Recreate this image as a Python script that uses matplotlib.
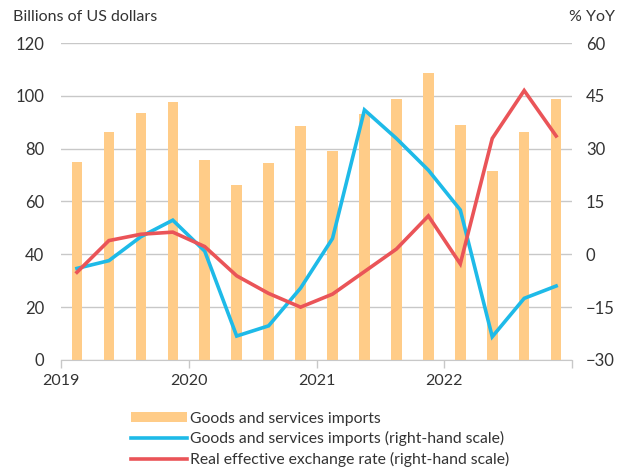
import matplotlib
matplotlib.use("Agg")
import matplotlib.pyplot as plt
from matplotlib.patches import Patch
from matplotlib.lines import Line2D
import numpy as np

plt.rcParams['font.family'] = ['Lato', 'DejaVu Sans']

quarters = ["2019Q1","2019Q2","2019Q3","2019Q4","2020Q1","2020Q2","2020Q3","2020Q4",
            "2021Q1","2021Q2","2021Q3","2021Q4","2022Q1","2022Q2","2022Q3","2022Q4"]
imports_bn = [75, 86.3, 93.5, 97.6, 75.6, 66.1, 74.6, 88.4,
              79.1, 93, 98.8, 108.7, 89, 71.4, 86.4, 98.8]
imports_yoy = [-4.0, -1.8, 5.0, 9.7, 0.9, -23.2, -20.3, -9.6,
               4.5, 41.0, 32.9, 23.9, 12.6, -23.4, -12.5, -9.0]
reer_yoy = [-5.1, 3.9, 5.7, 6.3, 2.2, -6.1, -11.1, -15.0,
            -11.3, -4.9, 1.5, 10.9, -2.7, 32.9, 46.5, 33.6]
year_labels = ["2019", "2020", "2021", "2022"]
left_ticks = [0, 20, 40, 60, 80, 100, 120]
right_ticks = [-30, -15, 0, 15, 30, 45, 60]

bar_c = "#FFCC88"
blue_c = "#1EBAE8"
red_c = "#EA5458"
grid_c = "#C8C8C8"
text_c = "#333333"

fig = plt.figure(figsize=(6.28, 4.71), dpi=100)
ax = fig.add_axes([0.0971, 0.2357, 0.8139, 0.673])
ax2 = ax.twinx()

x = np.arange(len(quarters))
ax.bar(x, imports_bn, width=0.33, color=bar_c, zorder=2)
ax.set_ylim(0, 120)
ax.set_yticks(left_ticks)
ax.set_xlim(-0.5, len(quarters) - 0.5)
ax.grid(axis='y', color=grid_c, linewidth=1, zorder=0)
ax.set_axisbelow(True)

ax2.plot(x, imports_yoy, color=blue_c, lw=2.6, zorder=3, solid_joinstyle='miter')
ax2.plot(x, reer_yoy, color=red_c, lw=2.6, zorder=4, solid_joinstyle='miter')
ax2.set_ylim(-30, 60)
ax2.set_yticks(right_ticks)

xt = [-0.5, 3.5, 7.5, 11.5, 15.5]
ax.set_xticks(xt)
ax.set_xticklabels(year_labels + [""])
ax.tick_params(axis='x', length=6, width=1, color=grid_c, labelsize=11.5, labelcolor=text_c, pad=4)
ax.tick_params(axis='y', length=0, labelsize=12, labelcolor=text_c, pad=12)
ax2.tick_params(axis='y', length=0, labelsize=12, labelcolor=text_c, pad=10)
for a in (ax, ax2):
    for s in ['top', 'left', 'right']:
        a.spines[s].set_visible(False)
    a.spines['bottom'].set_color(grid_c)
ax2.spines['bottom'].set_visible(False)

fig.text(13/628, 1 - 17/471, "Billions of US dollars", fontsize=11.5, color=text_c, va='center', ha='left')
fig.text(615/628, 1 - 17/471, "% YoY", fontsize=11.5, color=text_c, va='center', ha='right')

handles = [Patch(facecolor=bar_c, edgecolor='none'),
           Line2D([0], [0], color=blue_c, lw=2.6),
           Line2D([0], [0], color=red_c, lw=2.6)]
labels = ["Goods and services imports",
          "Goods and services imports (right-hand scale)",
          "Real effective exchange rate (right-hand scale)"]
leg = fig.legend(handles, labels, loc='upper left', bbox_to_anchor=(123/628, 1 - 404/471),
                 frameon=False, fontsize=11.3, handlelength=3.55, handleheight=0.6,
                 labelspacing=0.35, handletextpad=0.2, borderpad=0)
for t in leg.get_texts():
    t.set_color(text_c)

fig.savefig("out.png", dpi=100)
